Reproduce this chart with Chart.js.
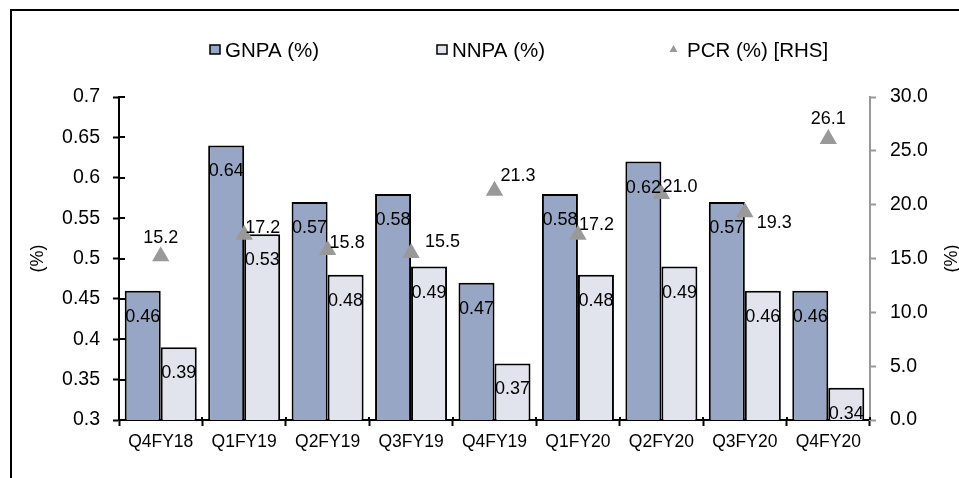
<!DOCTYPE html>
<html>
<head>
<meta charset="utf-8">
<script src="https://cdn.jsdelivr.net/npm/chart.js@4/dist/chart.umd.min.js"></script>
<style>
  html, body { margin: 0; padding: 0; background: #fff; overflow: hidden; }
  #frame {
    position: absolute; left: 10px; top: 9px; width: 1200px; height: 800px;
    border-left: 2px solid #000; border-top: 2px solid #000;
  }
  #wrap { position: absolute; left: 0; top: 0; width: 959px; height: 478px; }
</style>
</head>
<body>
<div id="frame"></div>
<div id="wrap"><canvas id="npaChart"></canvas></div>
<script>
const quarters = ["Q4FY18", "Q1FY19", "Q2FY19", "Q3FY19", "Q4FY19", "Q1FY20", "Q2FY20", "Q3FY20", "Q4FY20"];
const gnpa = [0.46, 0.64, 0.57, 0.58, 0.47, 0.58, 0.62, 0.57, 0.46];
const nnpa = [0.39, 0.53, 0.48, 0.49, 0.37, 0.48, 0.49, 0.46, 0.34];
const pcr = [15.2, 17.2, 15.8, 15.5, 21.3, 17.2, 21.0, 19.3, 26.1];
const npaTicks = ["0.3", "0.35", "0.4", "0.45", "0.5", "0.55", "0.6", "0.65", "0.7"];
const pcrTicks = ["0.0", "5.0", "10.0", "15.0", "20.0", "25.0", "30.0"];

const FONT = "'Liberation Sans', Arial, sans-serif";
const GNPA_COLOR = "#97a6c4";
const NNPA_COLOR = "#e1e4ed";
const PCR_COLOR = "#999999";

// where each PCR value label sits relative to its marker: [align, dx, dy]
const pcrLabelPos = [
  ["center", 0, -18], ["left", 1, -7], ["left", 2, -7], ["left", 14, -11], ["left", 6, -15],
  ["left", 1, -10], ["left", 1, -7], ["left", 12, 11], ["center", 0, -20]
];

// ticks on the left and bottom axes cross the axis line
const crossTicks = {
  id: "crossTicks",
  afterDraw(chart) {
    const { ctx, chartArea, scales } = chart;
    ctx.save();
    ctx.strokeStyle = "#000";
    ctx.lineWidth = 2;
    scales.y.ticks.forEach((t, i) => {
      const py = Math.round(scales.y.getPixelForTick(i));
      ctx.beginPath();
      ctx.moveTo(chartArea.left, py);
      ctx.lineTo(chartArea.left + 6, py);
      ctx.stroke();
    });
    const n = quarters.length;
    for (let i = 0; i <= n; i++) {
      const px = Math.round(scales.x.left + i * scales.x.width / n);
      ctx.beginPath();
      ctx.moveTo(px, chartArea.bottom);
      ctx.lineTo(px, chartArea.bottom - 3);
      ctx.stroke();
    }
    ctx.restore();
  }
};

// value labels: inside the top of each bar, beside each PCR marker
const valueLabels = {
  id: "valueLabels",
  afterDatasetsDraw(chart) {
    const ctx = chart.ctx;
    ctx.save();
    ctx.font = "18px " + FONT;
    ctx.fillStyle = "#000";
    ctx.textBaseline = "middle";
    [0, 1].forEach(di => {
      const ds = chart.data.datasets[di];
      chart.getDatasetMeta(di).data.forEach((bar, i) => {
        const y = Math.min(bar.y + 26, bar.base - 19);
        ctx.textAlign = "center";
        ctx.fillText(ds.data[i].toFixed(2), bar.x, y);
      });
    });
    chart.getDatasetMeta(2).data.forEach((pt, i) => {
      const [align, dx, dy] = pcrLabelPos[i];
      ctx.textAlign = align;
      ctx.fillText(pcr[i].toFixed(1), pt.x + dx, pt.y + dy);
    });
    ctx.restore();
  }
};

// legend row and the right-hand axis title
const legendAndTitle = {
  id: "legendAndTitle",
  afterDraw(chart) {
    const ctx = chart.ctx;
    const ds = chart.data.datasets;
    const y = 50;
    ctx.save();
    ctx.font = "20.5px " + FONT;
    ctx.fillStyle = "#000";
    ctx.textBaseline = "middle";
    ctx.textAlign = "left";

    [[0, 210], [1, 437]].forEach(([di, x]) => {
      ctx.fillStyle = ds[di].backgroundColor;
      ctx.fillRect(x, y - 5, 10, 9);
      ctx.strokeStyle = "#000";
      ctx.lineWidth = 1.5;
      ctx.strokeRect(x, y - 5, 10, 9);
      ctx.fillStyle = "#000";
      ctx.fillText(ds[di].label, x + 15, y + 1);
    });

    ctx.fillStyle = PCR_COLOR;
    ctx.beginPath();
    ctx.moveTo(673.5, y - 5);
    ctx.lineTo(677.5, y + 2);
    ctx.lineTo(669.5, y + 2);
    ctx.closePath();
    ctx.fill();
    ctx.fillStyle = "#000";
    ctx.fillText(ds[2].label, 687, y + 1);

    const r = chart.scales.y1;
    ctx.translate(r.right - 7, (chart.chartArea.top + chart.chartArea.bottom) / 2);
    ctx.rotate(-Math.PI / 2);
    ctx.font = "18px " + FONT;
    ctx.textAlign = "center";
    ctx.fillText("(%)", 0, 0);
    ctx.restore();
  }
};

new Chart(document.getElementById("npaChart"), {
  type: "bar",
  data: {
    labels: quarters,
    datasets: [
      {
        label: "GNPA (%)", data: gnpa, yAxisID: "y", order: 1,
        backgroundColor: GNPA_COLOR, borderColor: "#000", borderWidth: 2, borderSkipped: false,
        categoryPercentage: 0.863, barPercentage: 1
      },
      {
        label: "NNPA (%)", data: nnpa, yAxisID: "y", order: 1,
        backgroundColor: NNPA_COLOR, borderColor: "#000", borderWidth: 2, borderSkipped: false,
        categoryPercentage: 0.863, barPercentage: 1
      },
      {
        type: "line", label: "PCR (%) [RHS]", data: pcr, yAxisID: "y1", order: 0,
        showLine: false, pointStyle: "triangle", pointRadius: 10, pointHoverRadius: 10,
        pointBackgroundColor: PCR_COLOR, pointBorderColor: PCR_COLOR, pointBorderWidth: 0,
        backgroundColor: PCR_COLOR, borderColor: PCR_COLOR
      }
    ]
  },
  options: {
    responsive: true,
    maintainAspectRatio: false,
    animation: false,
    layout: { padding: { top: 97, left: 0, right: 0, bottom: 0 } },
    plugins: { legend: { display: false }, tooltip: { enabled: false } },
    scales: {
      x: {
        grid: { offset: true, drawOnChartArea: false, tickLength: 6, tickColor: "#000", tickWidth: 2 },
        border: { color: "#000", width: 2 },
        ticks: { color: "#000", font: { family: FONT, size: 17.5 }, padding: 6, maxRotation: 0, autoSkip: false },
        afterFit(s) { s.height = 58; }
      },
      y: {
        position: "left",
        min: 0.3, max: 0.7,
        grid: { drawOnChartArea: false, tickLength: 6, tickColor: "#000", tickWidth: 2 },
        border: { color: "#000", width: 2 },
        ticks: {
          stepSize: 0.05, color: "#000", font: { family: FONT, size: 19.5 }, padding: 13,
          callback: (v, i) => npaTicks[i] ?? String(+v.toFixed(2))
        },
        title: { display: true, text: "(%)", color: "#000", font: { family: FONT, size: 18 }, padding: { top: 27 } },
        afterFit(s) { s.width = 119; }
      },
      y1: {
        position: "right",
        min: 0, max: 30,
        grid: { drawOnChartArea: false, tickLength: 6, tickColor: PCR_COLOR, tickWidth: 2 },
        border: { color: PCR_COLOR, width: 2 },
        ticks: {
          stepSize: 5, color: "#000", font: { family: FONT, size: 19.5 }, padding: 14,
          callback: (v, i) => pcrTicks[i] ?? v.toFixed(1)
        },
        afterFit(s) { s.width = 89; }
      }
    }
  },
  plugins: [crossTicks, valueLabels, legendAndTitle]
});
</script>
</body>
</html>
